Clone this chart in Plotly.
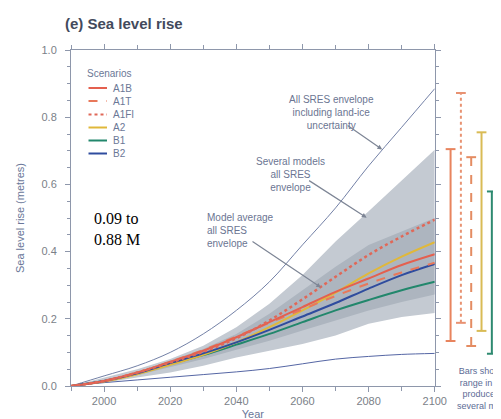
import plotly.graph_objects as go

# ---------------- data ----------------
years = [1990, 2000, 2010, 2020, 2030, 2040, 2050, 2060, 2070, 2080, 2090, 2100]

scenarios = ["A1B", "A1T", "A1FI", "A2", "B1", "B2"]
a1b = [0, 0.015, 0.040, 0.072, 0.105, 0.145, 0.190, 0.235, 0.280, 0.320, 0.360, 0.392]
a1t = [0, 0.015, 0.040, 0.072, 0.107, 0.147, 0.188, 0.228, 0.268, 0.305, 0.338, 0.367]
a1fi = [0, 0.015, 0.040, 0.070, 0.102, 0.142, 0.195, 0.258, 0.325, 0.390, 0.445, 0.495]
a2 = [0, 0.013, 0.035, 0.063, 0.093, 0.130, 0.175, 0.225, 0.278, 0.335, 0.385, 0.428]
b1 = [0, 0.015, 0.037, 0.065, 0.092, 0.123, 0.155, 0.190, 0.225, 0.256, 0.285, 0.310]
b2 = [0, 0.015, 0.038, 0.068, 0.097, 0.130, 0.167, 0.207, 0.247, 0.290, 0.330, 0.363]

# envelopes
all_ice_upper = [0, 0.030, 0.060, 0.100, 0.155, 0.225, 0.310, 0.420, 0.530, 0.655, 0.770, 0.885]
all_ice_lower = [0, 0.010, 0.018, 0.026, 0.034, 0.042, 0.052, 0.066, 0.080, 0.088, 0.094, 0.097]
models_upper = [0, 0.025, 0.050, 0.080, 0.120, 0.175, 0.245, 0.330, 0.430, 0.520, 0.610, 0.703]
models_lower = [0, 0.010, 0.025, 0.040, 0.060, 0.085, 0.105, 0.125, 0.150, 0.185, 0.205, 0.217]
avg_upper = [0, 0.016, 0.042, 0.075, 0.110, 0.155, 0.215, 0.285, 0.355, 0.420, 0.460, 0.500]
avg_lower = [0, 0.012, 0.032, 0.055, 0.080, 0.108, 0.135, 0.165, 0.195, 0.225, 0.250, 0.272]

# range bars in 2100 (visible ones)
bar_names = ["A1B", "A1FI", "A1T", "A2", "B1"]
bar_low = [0.134, 0.188, 0.119, 0.164, 0.096]
bar_high = [0.705, 0.872, 0.681, 0.755, 0.579]

x_ticks = [2000, 2020, 2040, 2060, 2080, 2100]
y_ticks = [0.0, 0.2, 0.4, 0.6, 0.8, 1.0]

# ---------------- styles ----------------
W, H = 501, 419
ML, MR, MT, MB = 63, 0, 42, 41
PW, PH = W - ML - MR, H - MT - MB

def px(x):
    return (x - ML) / PW

def py(y):
    return (H - MB - y) / PH

scen_style = {
    "A1B": dict(color="#e4604f", dash="solid", width=2),
    "A1T": dict(color="#e8785a", dash="dash", width=2),
    "A1FI": dict(color="#e06858", dash="dot", width=2.5),
    "A2": dict(color="#e0b83a", dash="solid", width=2),
    "B1": dict(color="#22876c", dash="solid", width=2),
    "B2": dict(color="#2f4c9e", dash="solid", width=2),
}
scen_data = {"A1B": a1b, "A1T": a1t, "A1FI": a1fi, "A2": a2, "B1": b1, "B2": b2}
bar_colors = {"A1B": "#e8845e", "A1FI": "#e89272", "A1T": "#e48c62", "A2": "#d9bb55", "B1": "#2e8a70"}

fig = go.Figure()

# light gray envelope (several models)
fig.add_trace(go.Scatter(x=years, y=models_lower, mode="lines", line=dict(width=0),
                         hoverinfo="skip", showlegend=False))
fig.add_trace(go.Scatter(x=years, y=models_upper, mode="lines", line=dict(width=0),
                         fill="tonexty", fillcolor="#c4cad2", hoverinfo="skip", showlegend=False))
# darker envelope (model average)
fig.add_trace(go.Scatter(x=years, y=avg_lower, mode="lines", line=dict(width=0),
                         hoverinfo="skip", showlegend=False))
fig.add_trace(go.Scatter(x=years, y=avg_upper, mode="lines", line=dict(width=0),
                         fill="tonexty", fillcolor="#adb5bf", hoverinfo="skip", showlegend=False))
# outer envelope lines
fig.add_trace(go.Scatter(x=years, y=all_ice_upper, mode="lines", line=dict(color="#7380a6", width=1, shape="spline"),
                         showlegend=False))
fig.add_trace(go.Scatter(x=years, y=all_ice_lower, mode="lines", line=dict(color="#5566a4", width=1, shape="spline"),
                         showlegend=False))

# scenario lines
for s in ["B1", "A2", "B2", "A1T", "A1B", "A1FI"]:
    st = scen_style[s]
    fig.add_trace(go.Scatter(x=years, y=scen_data[s], mode="lines", name=s,
                             line=dict(color=st["color"], dash=st["dash"], width=st["width"], shape="spline"),
                             showlegend=False))

# range bars at right
for n, lo, hi in zip(bar_names, bar_low, bar_high):
    st = scen_style[n]
    fig.add_trace(go.Scatter(x=[n, n], y=[lo, hi], xaxis="x2", yaxis="y2", mode="lines+markers",
                             line=dict(color=bar_colors[n], dash=st["dash"], width=2),
                             marker=dict(symbol="line-ew-open", size=7, color=bar_colors[n],
                                         line=dict(width=2, color=bar_colors[n])),
                             showlegend=False, cliponaxis=False))

axis_col = "#8e97ab"
tick_font = dict(family="Liberation Sans, Arial, sans-serif", size=11, color="#7b7f88")
label_col = "#6a7799"

fig.update_layout(
    width=W, height=H, autosize=False,
    margin=dict(l=ML, r=MR, t=MT, b=MB),
    paper_bgcolor="white", plot_bgcolor="white",
    title=dict(text="<b>(e) Sea level rise</b>", xref="container", yref="container",
               x=57 / W, xanchor="left", y=1 - 16 / H, yanchor="middle",
               font=dict(family="Liberation Sans, Arial, sans-serif", size=15, color="#434a5c")),
    xaxis=dict(range=[1990, 2100], domain=[0, (437 - ML) / PW], tickmode="array", tickvals=x_ticks,
               ticktext=[str(v) for v in x_ticks],
               ticks="outside", ticklen=5, tickcolor=axis_col, showline=True, linecolor=axis_col,
               mirror="ticks", showgrid=False, zeroline=False, tickfont=tick_font,
               minor=dict(dtick=10, tick0=1990, ticks="outside", ticklen=4, tickcolor=axis_col),
               title=dict(text="Year", standoff=4,
                          font=dict(family="Liberation Sans, Arial, sans-serif", size=11, color=label_col))),
    yaxis=dict(range=[0, 1.0], tickmode="array", tickvals=y_ticks, ticktext=[f"{v:.1f}" for v in y_ticks],
               ticks="outside", ticklen=5, tickcolor=axis_col, showline=True, linecolor=axis_col,
               mirror="ticks", showgrid=False, zeroline=False, tickfont=tick_font,
               ticklabelstandoff=6,
               minor=dict(dtick=0.05, tick0=0, ticks="outside", ticklen=3, tickcolor=axis_col),
               title=dict(text="Sea level rise (metres)", standoff=14,
                          font=dict(family="Liberation Sans, Arial, sans-serif", size=11, color=label_col))),
    xaxis2=dict(domain=[(440 - ML) / PW, 1.0], type="category", categoryorder="array",
                categoryarray=bar_names, range=[-1.25, 4.5], visible=False, anchor="y2"),
    yaxis2=dict(range=[0, 1.0], anchor="x2", visible=False, overlaying="y"),
)

# manual legend
leg_font = dict(family="Liberation Sans, Arial, sans-serif", size=10, color="#6b7896")
fig.add_annotation(x=px(77), y=py(66), xref="paper", yref="paper", text="Scenarios", showarrow=False,
                   xanchor="left", yanchor="middle", font=leg_font)
leg_y = [80, 93, 106.5, 119.5, 132.5, 145.5]
for s, yy in zip(scenarios, leg_y):
    st = scen_style[s]
    fig.add_shape(type="line", xref="paper", yref="paper", x0=px(81), x1=px(100), y0=py(yy), y1=py(yy),
                  line=dict(color=st["color"], dash=st["dash"], width=2))
    fig.add_annotation(x=px(104), y=py(yy), xref="paper", yref="paper", text=s, showarrow=False,
                       xanchor="left", yanchor="middle", font=leg_font)

ann_font = dict(family="Liberation Sans, Arial, sans-serif", size=10, color="#6b7592")
fig.add_annotation(x=px(331), y=py(104), xref="paper", yref="paper",
                   text="All SRES envelope<br>including land-ice<br>uncertainty", showarrow=False,
                   xanchor="center", yanchor="middle", font=ann_font)
fig.add_annotation(x=px(289), y=py(166), xref="paper", yref="paper",
                   text="Several models<br>all SRES<br>envelope", showarrow=False,
                   xanchor="center", yanchor="middle", font=ann_font)
fig.add_annotation(x=px(201), y=py(222), xref="paper", yref="paper",
                   text="Model average<br>all SRES<br>envelope", showarrow=False, align="left",
                   xanchor="left", yanchor="middle", font=ann_font)

arrow_col = "#7d8595"
for hx, hy, ax, ay in [(2084.1, 0.704, -36, -25), (2079.4, 0.501, -59, -38), (2065.6, 0.293, -70, -47)]:
    fig.add_annotation(x=hx, y=hy, xref="x", yref="y", text="", showarrow=True, ax=ax, ay=ay,
                       arrowhead=2, arrowsize=0.8, arrowwidth=1.2, arrowcolor=arrow_col)

fig.add_annotation(x=px(85), y=py(221), xref="paper", yref="paper", text="0.09 to<br>0.88 M",
                   showarrow=False, xanchor="left", yanchor="middle", align="left",
                   font=dict(family="Liberation Serif, Times New Roman, serif", size=16, color="black"))

fig.add_annotation(x=px(491), y=py(380), xref="paper", yref="paper",
                   text="Bars show the<br>range in 2100<br>produced by<br>several models",
                   showarrow=False, xanchor="center", yanchor="middle", align="center",
                   font=dict(family="Liberation Sans, Arial, sans-serif", size=9, color="#5d6c96"))

fig.write_html("out.html")
